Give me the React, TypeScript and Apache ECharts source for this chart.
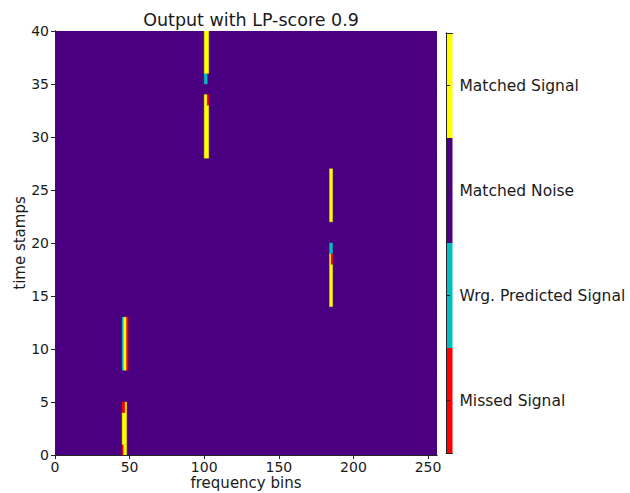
import React, { useEffect, useRef } from "react";
import * as echarts from "echarts";

const N_BINS = 256;
const N_ROWS = 40;
const classNames = ["Missed Signal", "Wrg. Predicted Signal", "Matched Noise", "Matched Signal"];
const classColors = ["#ff0000", "#00bfbf", "#4b0082", "#ffff00"];
const NOISE = 2;
const xTicks = [0, 50, 100, 150, 200, 250];
const yTicks = [0, 5, 10, 15, 20, 25, 30, 35, 40];

// vertical runs: [bin, rowFrom, rowTo, classIndex]
const markA = [
  [45, 0, 0, 0], [45, 1, 3, 3], [45, 4, 4, 0],
  [46, 0, 3, 3], [46, 4, 4, 0],
  [47, 0, 4, 3],
];
const markB = [
  [45, 8, 12, 1], [46, 8, 12, 3], [47, 8, 12, 3], [48, 8, 12, 0],
];
const markC = [
  [100, 36, 39, 3], [101, 36, 39, 3], [102, 36, 39, 3],
  [100, 35, 35, 1], [101, 35, 35, 1],
];
const markD = [
  [100, 28, 33, 3], [101, 28, 33, 3], [102, 28, 32, 3], [102, 33, 33, 0],
];
const markE = [
  [184, 22, 26, 3], [185, 22, 26, 3],
];
const markF = [
  [184, 14, 18, 3], [185, 14, 17, 3], [185, 18, 18, 0],
  [184, 19, 19, 1], [185, 19, 19, 1],
];

function buildRects() {
  const m: number[][] = [];
  for (let r = 0; r < N_ROWS; r++) m.push(new Array(N_BINS).fill(NOISE));
  for (const run of [...markA, ...markB, ...markC, ...markD, ...markE, ...markF]) {
    const [b, r0, r1, c] = run;
    for (let r = r0; r <= r1; r++) m[r][b] = c;
  }
  const rects: number[][] = [];
  let open: Record<string, number[]> = {};
  for (let r = 0; r < N_ROWS; r++) {
    const next: Record<string, number[]> = {};
    let s = 0;
    for (let b = 1; b <= N_BINS; b++) {
      if (b === N_BINS || m[r][b] !== m[r][s]) {
        const key = s + "-" + b + "-" + m[r][s];
        if (open[key]) {
          open[key][3] = r + 1;
          next[key] = open[key];
        } else {
          const rect = [s, b, r, r + 1, m[r][s]];
          rects.push(rect);
          next[key] = rect;
        }
        s = b;
      }
    }
    open = next;
  }
  rects.sort((a, b) => (a[4] === NOISE ? 0 : 1) - (b[4] === NOISE ? 0 : 1));
  return rects;
}

const FONT = "DejaVu Sans";
const TXT = "#1a1a1a";
const LINE = "#262626";

export default function App() {
  const ref = useRef<HTMLDivElement>(null);
  useEffect(() => {
    const chart = echarts.init(ref.current!, null, { renderer: "svg" });
    const rects = buildRects();
    const option: any = {
      animation: false,
      backgroundColor: "#ffffff",
      title: {
        text: "Output with LP-score 0.9",
        left: 246,
        textAlign: "center",
        top: 6,
        textStyle: { fontFamily: FONT, fontSize: 17.5, fontWeight: "normal", color: TXT },
      },
      grid: [
        {
          left: 55, top: 31, width: 382, height: 424, show: true,
          backgroundColor: classColors[NOISE], borderWidth: 0, outerBoundsMode: "none", containLabel: false,
        },
        { left: 446, top: 33, width: 6.5, height: 420, outerBoundsMode: "none", containLabel: false },
      ],
      xAxis: [
        {
          gridIndex: 0, type: "value", min: 0, max: N_BINS, position: "bottom", z: 5,
          axisLine: { show: true, lineStyle: { color: LINE, width: 1 } },
          axisTick: { show: true, length: 4, customValues: xTicks, lineStyle: { color: LINE } },
          axisLabel: { customValues: xTicks, fontFamily: FONT, fontSize: 14, color: TXT, margin: 5 },
          splitLine: { show: false },
          name: "frequency bins", nameLocation: "middle", nameGap: 20, nameMoveOverlap: false,
          nameTextStyle: { fontFamily: FONT, fontSize: 15, color: TXT },
        },
        {
          gridIndex: 0, type: "value", min: 0, max: N_BINS, position: "top", z: 5,
          axisLine: { show: true, lineStyle: { color: LINE, width: 1 } },
          axisTick: { show: false }, axisLabel: { show: false }, splitLine: { show: false },
        },
        {
          gridIndex: 1, type: "value", min: 0, max: 1, position: "bottom", z: 5,
          axisLine: { show: true, lineStyle: { color: LINE, width: 1 } },
          axisTick: { show: false }, axisLabel: { show: false }, splitLine: { show: false },
        },
        {
          gridIndex: 1, type: "value", min: 0, max: 1, position: "top", z: 5,
          axisLine: { show: true, lineStyle: { color: LINE, width: 1 } },
          axisTick: { show: false }, axisLabel: { show: false }, splitLine: { show: false },
        },
      ],
      yAxis: [
        {
          gridIndex: 0, type: "value", min: 0, max: N_ROWS, interval: 5, position: "left", z: 5,
          axisLine: { show: true, lineStyle: { color: LINE, width: 1 } },
          axisTick: { show: true, length: 4, customValues: yTicks, lineStyle: { color: LINE } },
          axisLabel: { customValues: yTicks, fontFamily: FONT, fontSize: 14, color: TXT, margin: 6 },
          splitLine: { show: false },
          name: "time stamps", nameLocation: "middle", nameGap: 28, nameRotate: 90, nameMoveOverlap: false,
          nameTextStyle: { fontFamily: FONT, fontSize: 15, color: TXT },
        },
        {
          gridIndex: 0, type: "value", min: 0, max: N_ROWS, position: "right", z: 5,
          axisLine: { show: true, lineStyle: { color: LINE, width: 1 } },
          axisTick: { show: false }, axisLabel: { show: false }, splitLine: { show: false },
        },
        {
          gridIndex: 1, type: "category", data: classNames, position: "right", z: 5,
          axisLine: { show: true, lineStyle: { color: LINE, width: 1 } },
          axisTick: { show: true, length: 4, alignWithLabel: true, lineStyle: { color: LINE } },
          axisLabel: { fontFamily: FONT, fontSize: 15.5, color: TXT, margin: 7 },
          splitLine: { show: false },
        },
        {
          gridIndex: 1, type: "category", data: classNames, position: "left", z: 5,
          axisLine: { show: true, lineStyle: { color: LINE, width: 1 } },
          axisTick: { show: false }, axisLabel: { show: false }, splitLine: { show: false },
        },
      ],
      series: [
        {
          type: "custom",
          xAxisIndex: 0,
          yAxisIndex: 0,
          clip: true,
          data: rects,
          encode: { x: [0, 1], y: [2, 3] },
          renderItem: (params: any, api: any) => {
            const p0 = api.coord([api.value(0), api.value(3)]);
            const p1 = api.coord([api.value(1), api.value(2)]);
            const c = classColors[api.value(4)];
            return {
              type: "rect",
              shape: { x: p0[0], y: p0[1], width: p1[0] - p0[0], height: p1[1] - p0[1] },
              style: { fill: c, stroke: c, lineWidth: 0.4 },
            };
          },
          z: 1,
        },
        {
          type: "bar",
          xAxisIndex: 2,
          yAxisIndex: 2,
          barWidth: "100%",
          barCategoryGap: "0%",
          data: classNames.map((n, i) => ({ value: 1, itemStyle: { color: classColors[i] } })),
          z: 1,
        },
      ],
    };
    chart.setOption(option);
    return () => chart.dispose();
  }, []);
  return (
    <div
      ref={ref}
      style={{ position: "absolute", left: 0, top: 0, width: 630, height: 493 }}
    />
  );
}
